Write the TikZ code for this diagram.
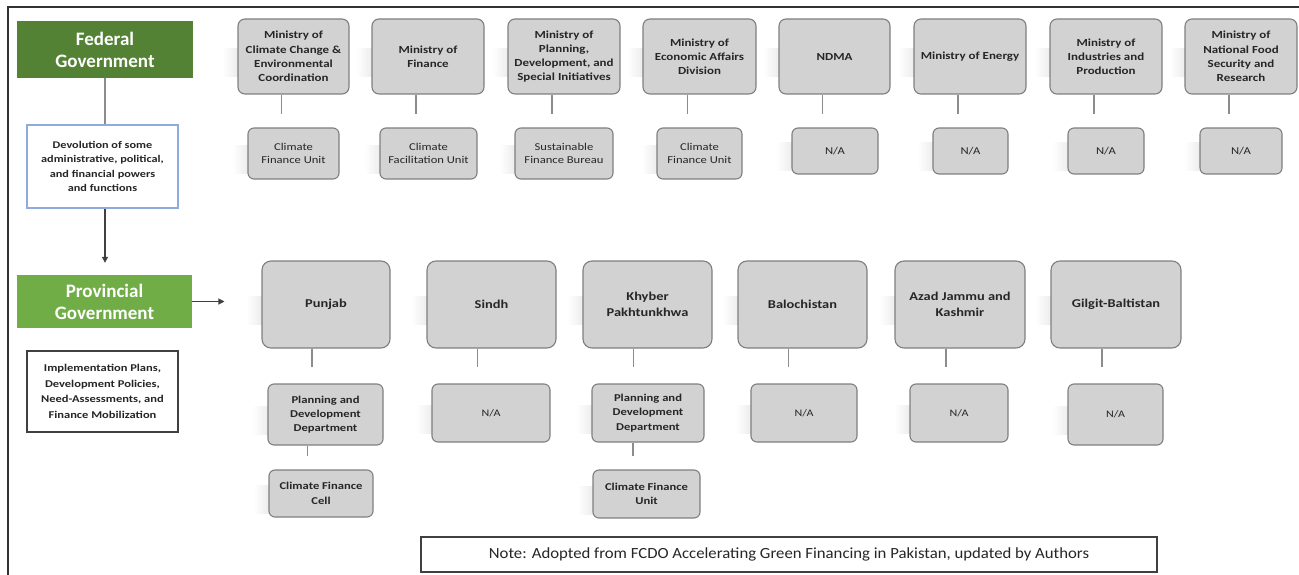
\documentclass[tikz,border=0pt]{standalone}
\usepackage{fontspec}
\setmainfont{Carlito}
\newfontfamily\boxfont{Carlito}[FakeStretch=1.2]
\newfontfamily\notefont{Carlito}[FakeStretch=1.08]
\usetikzlibrary{arrows.meta,backgrounds}
\definecolor{fedgreen}{HTML}{548235}
\definecolor{provgreen}{HTML}{70AD47}
\definecolor{boxfill}{HTML}{D2D2D2}
\definecolor{boxline}{HTML}{7F7F7F}
\definecolor{txt}{HTML}{262626}
\definecolor{devblue}{HTML}{8FAADC}
\definecolor{connc}{HTML}{8C8C8C}
\definecolor{shade}{HTML}{E9E9E9}
\tikzset{
  graybox/.style={draw=boxline,fill=boxfill,line width=1.1pt,align=center,text=txt,inner sep=0pt},
  minbox/.style={graybox,rounded corners=7pt,minimum width=112pt,minimum height=75pt,font=\boxfont\bfseries\fontsize{10.8}{14.2}\selectfont},
  unitbox/.style={graybox,rounded corners=6pt,font=\boxfont\fontsize{10.5}{13}\selectfont},
  provbox/.style={graybox,rounded corners=9pt,minimum width=129pt,minimum height=87pt,font=\boxfont\bfseries\fontsize{12}{16.5}\selectfont},
  subbox/.style={graybox,rounded corners=6pt,font=\boxfont\bfseries\fontsize{10.5}{14.3}\selectfont},
  na/.style={font=\boxfont\fontsize{10}{13}\selectfont},
  govbox/.style={text=white,align=center,inner sep=0pt,font=\bfseries\fontsize{19}{22}\selectfont},
  infobox/.style={fill=white,align=center,inner sep=0pt,text=txt,font=\boxfont\bfseries\fontsize{10.2}{14.5}\selectfont},
  conn/.style={draw=connc,line width=1.8pt},
  darkarrow/.style={draw=black!75,line width=1.2pt,-{Triangle[length=6pt,width=6pt]}},
  shadowpatch/.style={left color=white,right color=shade,draw=none},
}
\begin{document}
\begin{tikzpicture}[x=1pt,y=-1pt]
\useasboundingbox (0,0) rectangle (1299,575);
% frame
\draw[black!80,line width=2pt] (8,576) -- (8,7) -- (1300,7);

% government column
\node[govbox,fill=fedgreen,minimum width=176pt,minimum height=57pt] (fed) at (105,49.5) {Federal\\Government};
\node[infobox,draw=devblue,line width=1.1pt,minimum width=151pt,minimum height=83pt] (dev) at (102.5,166.5) {Devolution of some\\administrative, political,\\and financial powers\\and functions};
\node[govbox,fill=provgreen,minimum width=175pt,minimum height=53pt] (prov) at (104.5,301.5) {Provincial\\Government};
\node[infobox,draw=black!75,line width=1.1pt,minimum width=151pt,minimum height=81pt,font=\boxfont\bfseries\fontsize{10.4}{15.5}\selectfont] (impl) at (102.5,391.5) {Implementation Plans,\\Development Policies,\\Need-Assessments, and\\Finance Mobilization};

\draw[conn,line width=1.5pt] (fed.south) -- (fed.south |- dev.north);
\draw[darkarrow,shorten >=12pt] (fed.south |- dev.south) -- (fed.south |- prov.north);

% ministries
\node[minbox,minimum width=111pt] (m1) at (293.5,56.5) {Ministry of\\Climate Change \&\\Environmental\\Coordination};
\node[minbox] (m2) at (428,56.5) {Ministry of\\Finance};
\node[minbox] (m3) at (564,56.5) {Ministry of\\Planning,\\Development, and\\Special Initiatives};
\node[minbox,minimum width=113pt] (m4) at (699.5,56.5) {Ministry of\\Economic Affairs\\Division};
\node[minbox,minimum width=111pt] (m5) at (834.5,56.5) {NDMA};
\node[minbox] (m6) at (970,56.5) {Ministry of Energy};
\node[minbox] (m7) at (1106,56.5) {Ministry of\\Industries and\\Production};
\node[minbox] (m8) at (1241,56.5) {Ministry of\\National Food\\Security and\\Research};

\node[unitbox,minimum width=91pt,minimum height=51pt] (c1) at (293.5,153.5) {Climate\\Finance Unit};
\node[unitbox,minimum width=97pt,minimum height=51pt] (c2) at (428.5,153.5) {Climate\\Facilitation Unit};
\node[unitbox,minimum width=98pt,minimum height=51pt] (c3) at (564,153.5) {Sustainable\\Finance Bureau};
\node[unitbox,minimum width=85pt,minimum height=51pt] (c4) at (699.5,153.5) {Climate\\Finance Unit};
\node[unitbox,minimum width=86pt,minimum height=46pt] (c5) at (835,151) {N/A};
\node[unitbox,minimum width=75pt,minimum height=46pt] (c6) at (970.5,151) {N/A};
\node[unitbox,minimum width=76pt,minimum height=46pt] (c7) at (1106,151) {N/A};
\node[unitbox,minimum width=82pt,minimum height=46pt] (c8) at (1241,151) {N/A};

\foreach \i in {1,...,8}{
  \draw[conn,shorten >=13pt] ([xshift=-12pt]m\i.south) -- ([xshift=-12pt]m\i.south |- c\i.north);
}

% provinces
\node[provbox,minimum width=128pt] (p1) at (326,304.5) {Punjab};
\node[provbox] (p2) at (491.5,304.5) {Sindh};
\node[provbox] (p3) at (647.5,304.5) {Khyber\\Pakhtunkhwa};
\node[provbox] (p4) at (802.5,304.5) {Balochistan};
\node[provbox,minimum width=130pt] (p5) at (960,304.5) {Azad Jammu and\\Kashmir};
\node[provbox,minimum width=130pt] (p6) at (1116,304.5) {Gilgit-Baltistan};

\draw[darkarrow] (prov.east) -- ([xshift=-37pt]prov.east -| p1.west);

\node[subbox,minimum width=115pt,minimum height=61pt] (q1) at (325.5,414.5) {Planning and\\Development\\Department};
\node[unitbox,na,minimum width=118pt,minimum height=58pt] (q2) at (491,413) {N/A};
\node[subbox,minimum width=112pt,minimum height=58pt] (q3) at (648,413) {Planning and\\Development\\Department};
\node[unitbox,na,minimum width=106pt,minimum height=58pt] (q4) at (804,413) {N/A};
\node[unitbox,na,minimum width=98pt,minimum height=58pt] (q5) at (959,413) {N/A};
\node[unitbox,na,minimum width=95pt,minimum height=61pt] (q6) at (1115.5,414.5) {N/A};

\foreach \i in {1,...,6}{
  \draw[conn,shorten >=16pt] ([xshift=-14pt]p\i.south) -- ([xshift=-14pt]p\i.south |- q\i.north);
}

\node[subbox,minimum width=104pt,minimum height=47pt] (r1) at (321,493.5) {Climate Finance\\Cell};
\node[subbox,minimum width=107pt,minimum height=48pt] (r3) at (646.5,494) {Climate Finance\\Unit};

\draw[conn,shorten >=13pt] ([xshift=-18pt]q1.south) -- ([xshift=-18pt]q1.south |- r1.north);
\draw[conn,shorten >=13pt] ([xshift=-15pt]q3.south) -- ([xshift=-15pt]q3.south |- r3.north);

% faint left-side shadows behind the grey boxes
\begin{pgfonlayer}{background}
\foreach \n in {m1,m2,m3,m4,m5,m6,m7,m8,c1,c2,c3,c4,c5,c6,c7,c8,p1,p2,p3,p4,p5,p6,q1,q2,q3,q4,q5,q6,r1,r3}{
  \path[shadowpatch] ([xshift=-15pt,yshift=8pt]\n.west) rectangle ([xshift=3pt,yshift=-20pt]\n.west);
}
\end{pgfonlayer}

% note
\node[draw=black!75,line width=1.3pt,fill=white,minimum width=736pt,minimum height=35pt,inner sep=0pt,text=txt,font=\notefont\fontsize{15.5}{18}\selectfont] (note) at (789,554.5) {Note: Adopted from FCDO Accelerating Green Financing in Pakistan, updated by Authors};
\end{tikzpicture}
\end{document}
